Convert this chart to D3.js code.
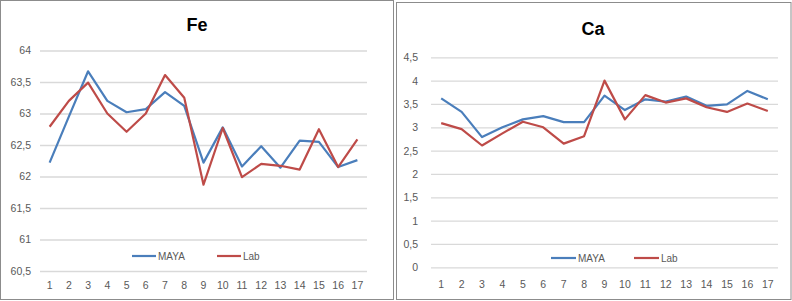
<!DOCTYPE html>
<html><head><meta charset="utf-8">
<script src="https://cdn.jsdelivr.net/npm/d3@7"></script>
<style>body{margin:0;background:#fff}svg{display:block}</style>
</head><body>
<svg id="c" width="792" height="301"></svg>
<script>
const categories = ["1","2","3","4","5","6","7","8","9","10","11","12","13","14","15","16","17"];
const feMaya = [62.22,62.95,63.67,63.2,63.02,63.07,63.34,63.12,62.22,62.78,62.16,62.48,62.14,62.57,62.55,62.15,62.26];
const feLab  = [62.79,63.2,63.49,63.0,62.71,63.0,63.61,63.25,61.87,62.77,61.99,62.2,62.17,62.11,62.75,62.15,62.59];
const caMaya = [3.62,3.33,2.79,3.0,3.17,3.24,3.11,3.11,3.68,3.37,3.6,3.55,3.66,3.46,3.49,3.78,3.6];
const caLab  = [3.09,2.96,2.61,2.87,3.12,3.0,2.65,2.81,4.0,3.17,3.69,3.53,3.62,3.43,3.33,3.51,3.35];
const feTicks = [60.5,61,61.5,62,62.5,63,63.5,64];
const caTicks = [0,0.5,1,1.5,2,2.5,3,3.5,4,4.5];
const seriesNames = ["MAYA","Lab"];
const colors = ["#4a7ebb","#be4b48"];

const svg = d3.select("#c");
const fmt = v => String(v).replace(".", ",");

function panel(cfg){
  const g = svg.append("g");
  g.append("rect").attr("x",cfg.bx).attr("y",cfg.by).attr("width",cfg.bw).attr("height",cfg.bh)
    .attr("fill","#fff").attr("stroke","#8c8c8c").attr("stroke-width",1);
  g.append("text").attr("x",cfg.tx).attr("y",cfg.ty).attr("text-anchor","middle")
    .attr("font-family","Liberation Sans, Arial, sans-serif").attr("font-weight","bold")
    .attr("font-size",18).attr("fill","#000").text(cfg.title);
  const x = d3.scaleBand().domain(categories).range([cfg.x0,cfg.x1]);
  const y = d3.scaleLinear().domain(cfg.domain).range([cfg.y0,cfg.y1]);
  const ya = g.append("g").attr("transform",`translate(${cfg.x0},0)`)
    .call(d3.axisLeft(y).tickValues(cfg.ticks).tickFormat(fmt).tickSize(-(cfg.x1-cfg.x0)).tickPadding(cfg.ypad));
  ya.select(".domain").remove();
  ya.selectAll(".tick line").attr("stroke","#d9d9d9").attr("stroke-width",1.3);
  ya.selectAll(".tick text").attr("fill","#595959").attr("font-size",10.5)
    .attr("font-family","Liberation Sans, Arial, sans-serif");
  const xa = g.append("g").attr("transform",`translate(0,${cfg.y0})`)
    .call(d3.axisBottom(x).tickSize(0).tickPadding(cfg.xpad));
  xa.select(".domain").remove();
  xa.selectAll(".tick text").attr("fill","#595959").attr("font-size",10.5)
    .attr("font-family","Liberation Sans, Arial, sans-serif");
  const line = d3.line().x((d,i)=>x(categories[i])+x.bandwidth()/2).y(d=>y(d));
  cfg.series.forEach((s,k)=>{
    g.append("path").datum(s).attr("d",line).attr("fill","none")
      .attr("stroke",colors[k]).attr("stroke-width",2.2).attr("stroke-linejoin","round");
  });
  seriesNames.forEach((n,k)=>{
    const lx = cfg.legX[k];
    g.append("line").attr("x1",lx).attr("x2",lx+cfg.legLen).attr("y1",cfg.legY).attr("y2",cfg.legY)
      .attr("stroke",colors[k]).attr("stroke-width",2.2);
    g.append("text").attr("x",lx+cfg.legLen+2).attr("y",cfg.legY+3.5)
      .attr("font-family","Liberation Sans, Arial, sans-serif").attr("font-size",10)
      .attr("fill","#595959").text(n);
  });
}

panel({bx:0.5,by:0.5,bw:393,bh:299,title:"Fe",tx:197,ty:31,
  x0:40,x1:367,y0:271,y1:50.5,domain:[60.5,64],ticks:feTicks,ypad:9,xpad:11,
  series:[feMaya,feLab],legX:[132,217],legLen:24,legY:256});
panel({bx:396.5,by:2.5,bw:394.5,bh:297,title:"Ca",tx:593,ty:35,
  x0:431,x1:778,y0:267.3,y1:57.3,domain:[0,4.5],ticks:caTicks,ypad:13,xpad:13,
  series:[caMaya,caLab],legX:[551,634],legLen:25,legY:258});
</script>
</body></html>
